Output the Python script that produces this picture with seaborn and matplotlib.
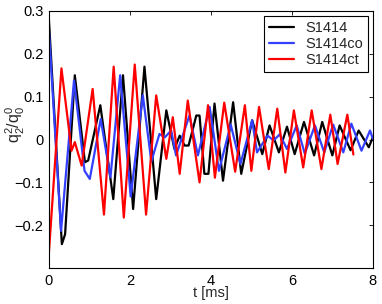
import pandas as pd
import matplotlib
matplotlib.use("Agg")
import matplotlib.pyplot as plt
import seaborn as sns

# peak / trough points, t in ms
black_t = [0.00, 0.32, 0.40, 0.64, 0.89, 0.97, 1.27, 1.59, 1.83, 2.08, 2.36, 2.65, 2.90,
           3.10, 3.23, 3.35, 3.45, 3.64, 3.72, 3.84, 3.94, 4.09, 4.30, 4.55, 4.75, 5.02,
           5.27, 5.45, 5.68, 5.88, 6.07, 6.30, 6.55, 6.75, 7.00, 7.18, 7.45, 7.65, 7.90, 8.00]
black_v = [0.280, -0.244, -0.221, 0.150, -0.053, -0.049, 0.080, -0.139, 0.150, -0.162, 0.170,
           -0.139, 0.068, -0.022, 0.009, -0.014, -0.014, 0.056, 0.056, -0.080, -0.080, 0.084,
           -0.096, 0.087, -0.080, 0.045, -0.034, 0.033, -0.030, 0.030, -0.034, 0.041, -0.037,
           0.041, -0.037, 0.033, -0.025, 0.021, -0.018, 0.005]

blue_t = [0.00, 0.30, 0.62, 0.88, 1.01, 1.28, 1.52, 1.76, 2.02, 2.32, 2.53, 2.73, 2.86, 3.02,
          3.14, 3.47, 3.68, 3.97, 4.20, 4.49, 4.73, 5.02, 5.14, 5.40, 5.55, 5.70, 5.88, 6.12,
          6.32, 6.57, 6.80, 7.02, 7.27, 7.47, 7.72, 7.93, 8.00]
blue_v = [0.255, -0.213, 0.138, -0.073, -0.092, 0.048, -0.088, 0.150, -0.133, 0.103, -0.051,
          0.013, 0.005, 0.021, -0.037, 0.056, -0.037, 0.076, -0.073, 0.035, -0.057, 0.045,
          -0.030, 0.009, -0.002, 0.012, -0.022, 0.033, -0.033, 0.033, -0.030, 0.035, -0.030,
          0.037, -0.026, 0.021, 0.002]

red_t = [0.00, 0.31, 0.56, 0.64, 0.81, 1.08, 1.36, 1.60, 1.85, 2.12, 2.40, 2.65, 2.90, 3.06,
         3.23, 3.43, 3.72, 3.93, 4.10, 4.33, 4.60, 4.84, 5.00, 5.19, 5.43, 5.64, 5.84, 6.05,
         6.28, 6.49, 6.73, 6.95, 7.13, 7.37, 7.52]
red_v = [-0.264, 0.166, -0.026, -0.006, -0.061, 0.118, -0.175, 0.170, -0.182, 0.175, -0.175,
         0.103, -0.045, 0.052, -0.080, 0.091, -0.100, 0.080, -0.089, 0.086, -0.075, 0.080,
         -0.073, 0.076, -0.069, 0.072, -0.077, 0.068, -0.065, 0.068, -0.069, 0.058, -0.057,
         0.058, -0.035]

names = ["S1414", "S1414co", "S1414ct"]
colors = {"S1414": "black", "S1414co": "#3340ff", "S1414ct": "#ff0000"}

x_ticks = [0, 2, 4, 6, 8]
y_ticks = [-0.2, -0.1, 0, 0.1, 0.2, 0.3]
y_labels = ["\u22120.2", "\u22120.1", "0", "0.1", "0.2", "0.3"]

frames = []
for name, t, v in zip(names, [black_t, blue_t, red_t], [black_v, blue_v, red_v]):
    frames.append(pd.DataFrame({"t": t, "q": v, "run": name}))
df = pd.concat(frames, ignore_index=True)

sns.set_style("white")
plt.rcParams["font.family"] = ["Liberation Sans", "DejaVu Sans"]
plt.rcParams["mathtext.fontset"] = "custom"
plt.rcParams["mathtext.rm"] = "Liberation Sans"
plt.rcParams["mathtext.it"] = "Liberation Sans"

fig = plt.figure(figsize=(3.82, 3.04), dpi=100)
ax = fig.add_axes([0.128, 0.118, 0.848, 0.846])

sns.lineplot(data=df, x="t", y="q", hue="run", palette=colors, estimator=None,
             sort=False, linewidth=1.6, ax=ax)

fs = 10.5
ax.set_xlim(0, 8)
ax.set_ylim(-0.3, 0.3)
ax.set_xticks(x_ticks)
ax.set_xticklabels([str(x) for x in x_ticks], fontsize=fs)
ax.set_yticks(y_ticks)
ax.set_yticklabels(y_labels, fontsize=fs)
ax.tick_params(direction="in", length=3, width=0.6, top=True, right=True,
               pad=4, colors="black")
for s in ax.spines.values():
    s.set_color("black")
    s.set_linewidth(0.8)

ax.set_xlabel("t [ms]", fontsize=fs, labelpad=-1)
ax.set_ylabel(r"q$_2^2$/q$_0^0$", fontsize=11.5)
ax.yaxis.set_label_coords(-0.068, 0.56)

leg = ax.legend(loc="upper right", fontsize=fs, frameon=True, fancybox=False,
                edgecolor="black", framealpha=1, handlelength=1.7,
                borderpad=0.35, labelspacing=0.12, handletextpad=0.75,
                borderaxespad=0.35)
leg.get_frame().set_linewidth(0.8)

fig.savefig("out.png", dpi=100)
